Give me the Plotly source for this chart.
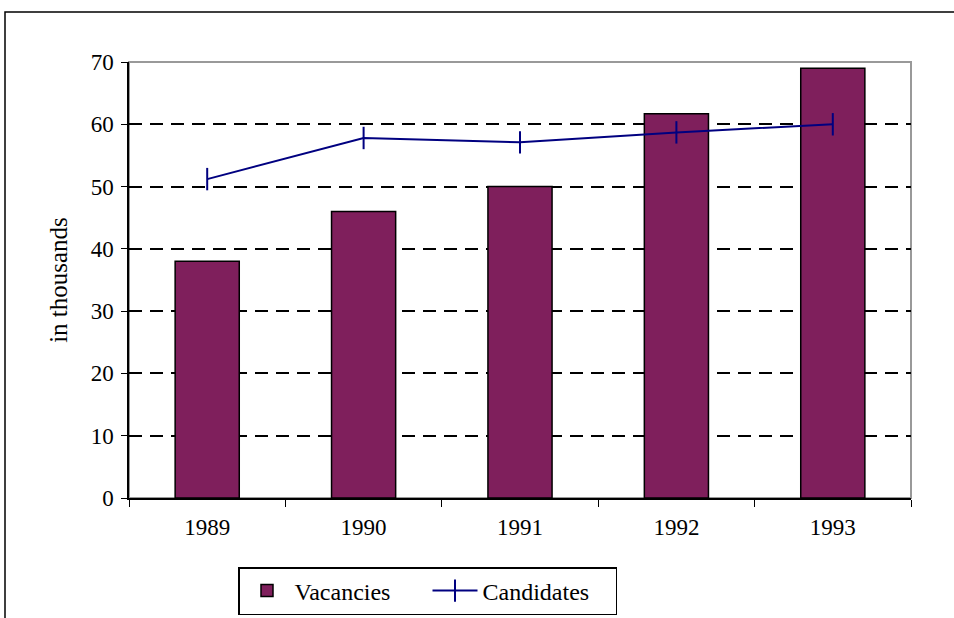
import plotly.graph_objects as go

years = ["1989", "1990", "1991", "1992", "1993"]
vacancies = [38, 46, 50, 61.7, 69]
candidates = [51.2, 57.8, 57.1, 58.7, 60.0]
y_ticks = [0, 10, 20, 30, 40, 50, 60, 70]

W, H = 954, 618
L, R, T, B = 129, 911, 62, 498
pw, ph = R - L, B - T

def px(x):
    return (x - L) / pw

def py(y):
    return (B - y) / ph

FONT = "Liberation Serif"

fig = go.Figure()
fig.add_trace(go.Bar(
    x=years, y=vacancies, name="Vacancies",
    marker=dict(color="#7f1f5c", line=dict(color="black", width=1.5)),
    width=0.41,
))
fig.add_trace(go.Scatter(
    x=years, y=candidates, name="Candidates", mode="lines+markers",
    line=dict(color="#000080", width=2),
    marker=dict(symbol="line-ns", size=16, line=dict(color="#000080", width=2)),
))

fig.update_layout(
    width=W, height=H,
    margin=dict(l=L, r=W - R, t=T, b=H - B, autoexpand=False),
    plot_bgcolor="white", paper_bgcolor="white",
    font=dict(family=FONT, size=23, color="black"),
    showlegend=True,
    legend=dict(
        orientation="h",
        xref="container", yref="container",
        x=238 / W, y=1 - 567 / H, xanchor="left", yanchor="top",
        bordercolor="black", borderwidth=1.5, font=dict(family=FONT, size=24),
        itemwidth=45, tracegroupgap=0, entrywidth=128,
    ),
    bargap=0.59,
    shapes=[
        dict(type="rect", xref="paper", yref="paper",
             x0=px(5), x1=px(990), y0=py(660), y1=py(12),
             line=dict(color="black", width=1.5), layer="below"),
        dict(type="rect", xref="paper", yref="paper",
             x0=0, x1=1, y0=0, y1=1,
             line=dict(color="#999999", width=2), layer="below"),
    ],
)
fig.update_xaxes(
    showline=True, linecolor="black", linewidth=1.5,
    ticks="outside", ticklen=7, tickcolor="black", tickson="boundaries",
    ticklabelstandoff=8, automargin=False,
    showgrid=False, tickfont=dict(family=FONT, size=23),
)
fig.update_yaxes(
    range=[0, 70], tickvals=y_ticks,
    showline=True, linecolor="black", linewidth=1.5,
    ticks="outside", ticklen=6, tickcolor="black", automargin=False,
    ticklabelstandoff=3,
    showgrid=True, gridcolor="black", gridwidth=2, griddash="13px,8px",
    zeroline=False,
    title=dict(text="in thousands", font=dict(family=FONT, size=25), standoff=16),
    tickfont=dict(family=FONT, size=23),
)

fig.write_html(
    "out.html",
    config={"displayModeBar": False},
    post_script="document.body.style.margin='0';document.body.style.overflow='hidden';",
)
